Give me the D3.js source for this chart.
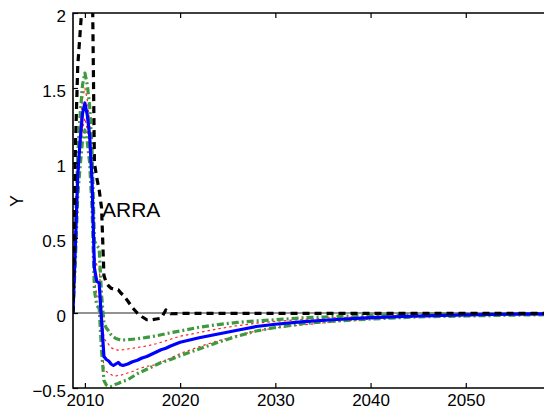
<!DOCTYPE html>
<html><head><meta charset="utf-8">
<script src="https://cdn.jsdelivr.net/npm/d3@7"></script>
<style>body{margin:0;background:#fff}svg{display:block}</style>
</head><body>
<svg id="c" width="544" height="412"></svg>
<script>
const years = [2008.75,2009,2009.25,2009.5,2009.75,2010,2010.25,2010.5,2010.75,2011,2011.25,2011.5,2011.75,2012,2012.25,2012.5,2012.75,2013,2013.25,2013.5,2013.75,2014,2014.5,2015,2015.5,2016,2016.5,2017,2017.5,2018,2018.5,2019,2020,2022,2024,2026,2028,2030,2033,2036,2040,2045,2050,2055,2060];
const estimate = [0,0.45,0.92,1.15,1.33,1.40,1.32,1.18,0.88,0.30,0.21,0.20,-0.05,-0.29,-0.31,-0.32,-0.34,-0.35,-0.34,-0.33,-0.345,-0.35,-0.34,-0.325,-0.315,-0.30,-0.29,-0.275,-0.26,-0.245,-0.235,-0.22,-0.195,-0.165,-0.14,-0.115,-0.09,-0.075,-0.058,-0.045,-0.031,-0.02,-0.013,-0.008,-0.005];
const innerUpper = [0,0.50,1.00,1.25,1.43,1.50,1.42,1.27,0.97,0.38,0.32,0.30,0.05,-0.17,-0.19,-0.21,-0.23,-0.24,-0.245,-0.247,-0.247,-0.245,-0.24,-0.235,-0.23,-0.225,-0.22,-0.212,-0.205,-0.195,-0.185,-0.175,-0.155,-0.13,-0.105,-0.085,-0.068,-0.056,-0.042,-0.032,-0.022,-0.014,-0.009,-0.006,-0.004];
const innerLower = [0,0.40,0.85,1.05,1.23,1.30,1.22,1.08,0.78,0.22,0.12,0.10,-0.15,-0.37,-0.39,-0.40,-0.41,-0.42,-0.42,-0.415,-0.415,-0.41,-0.40,-0.39,-0.375,-0.365,-0.355,-0.35,-0.345,-0.33,-0.315,-0.30,-0.27,-0.225,-0.185,-0.15,-0.12,-0.1,-0.078,-0.06,-0.04,-0.027,-0.018,-0.012,-0.008];
const outerUpper = [0,0.55,1.05,1.32,1.52,1.60,1.52,1.38,1.08,0.48,0.45,0.43,0.12,-0.07,-0.10,-0.12,-0.145,-0.16,-0.17,-0.175,-0.18,-0.18,-0.178,-0.175,-0.172,-0.168,-0.163,-0.158,-0.152,-0.145,-0.138,-0.132,-0.12,-0.095,-0.077,-0.063,-0.053,-0.045,-0.032,-0.024,-0.016,-0.01,-0.007,-0.005,-0.003];
const outerLower = [0,0.35,0.78,0.98,1.15,1.22,1.14,1.00,0.70,0.15,0.05,0.03,-0.25,-0.45,-0.48,-0.49,-0.49,-0.485,-0.475,-0.47,-0.462,-0.455,-0.445,-0.425,-0.405,-0.39,-0.375,-0.36,-0.345,-0.33,-0.32,-0.31,-0.285,-0.24,-0.195,-0.155,-0.12,-0.097,-0.07,-0.055,-0.04,-0.026,-0.02,-0.014,-0.01];
const arra = [0,1.1,1.65,1.87,2.1,2.4,2.6,2.6,2.4,1.0,0.9,0.82,0.7,0.25,0.2,0.18,0.165,0.16,0.157,0.155,0.135,0.12,0.08,0.035,0.0,-0.025,-0.045,-0.045,-0.04,-0.035,0.02,-0.005,-0.003,-0.003,-0.003,-0.003,-0.003,-0.003,-0.003,-0.003,-0.003,-0.003,-0.003,-0.003,-0.003];
const xTicks = [2010,2020,2030,2040,2050];
const yTicks = [-0.5,0,0.5,1,1.5,2];
const yTickLabels = ["\u22120.5","0","0.5","1","1.5","2"];

const svg = d3.select("#c");
const L=73, T=13, B=388, R=561;
const x = d3.scaleLinear().domain([2008.75,2060]).range([L,R]);
const y = d3.scaleLinear().domain([-0.5,2]).range([B,T]);
const font = "'Liberation Sans', Arial, Helvetica, sans-serif";

svg.append("clipPath").attr("id","clip").append("rect")
  .attr("x",L).attr("y",T).attr("width",R-L).attr("height",B-T);
const g = svg.append("g").attr("clip-path","url(#clip)");

g.append("line").attr("x1",L).attr("x2",R).attr("y1",y(0)).attr("y2",y(0))
  .attr("stroke","#6e6e6e").attr("stroke-width",1.6);

const line = d3.line().x((d,i)=>x(years[i])).y(d=>y(d));
function draw(data, color, w, dash, op){
  g.append("path").datum(data).attr("d",line).attr("fill","none")
   .attr("stroke",color).attr("stroke-width",w).attr("stroke-dasharray",dash)
   .attr("stroke-opacity",op||1).attr("stroke-linejoin","round");
}
draw(innerUpper,"#ff2020",1.2,"2.5,3");
draw(innerLower,"#ff2020",1.2,"2.5,3");
draw(outerUpper,"#3f9a3f",3.2,"7,3,2,3");
draw(outerLower,"#3f9a3f",3.2,"7,3,2,3");
draw(estimate,"#0000ff",3.2,null);
draw(arra,"#000000",3.2,"7,5");

// axes
const xa = d3.axisBottom(x).tickValues(xTicks).tickSize(-5).tickSizeOuter(0).tickPadding(6).tickFormat(d3.format("d"));
const xt = d3.axisTop(x).tickValues(xTicks.concat([2060])).tickSize(-5).tickSizeOuter(0).tickFormat("");
const ya = d3.axisLeft(y).tickValues(yTicks).tickSize(-5).tickSizeOuter(0).tickPadding(7).tickFormat((d,i)=>yTickLabels[i]);
const gx = svg.append("g").attr("transform",`translate(0,${B})`).call(xa);
const gt = svg.append("g").attr("transform",`translate(0,${T})`).call(xt);
const gy = svg.append("g").attr("transform",`translate(${L},0)`).call(ya);
[gx,gt,gy].forEach(a=>{
  a.select(".domain").remove();
  a.selectAll("line").attr("stroke","#000").attr("stroke-width",1.2);
  a.selectAll("text").attr("font-family",font).attr("font-size",17).attr("fill","#000");
});
gy.selectAll("text").attr("dy","0.48em");

svg.append("path").attr("d",`M${R},${T}H${L}V${B}H${R}`).attr("fill","none")
  .attr("stroke","#000").attr("stroke-width",1.6);

svg.append("text").attr("transform","translate(22.5,201) rotate(-90)")
  .attr("text-anchor","middle").attr("font-family",font).attr("font-size",18).text("Y");
svg.append("text").attr("x",102).attr("y",217).attr("font-family",font).attr("font-size",21).text("ARRA");
</script>
</body></html>
